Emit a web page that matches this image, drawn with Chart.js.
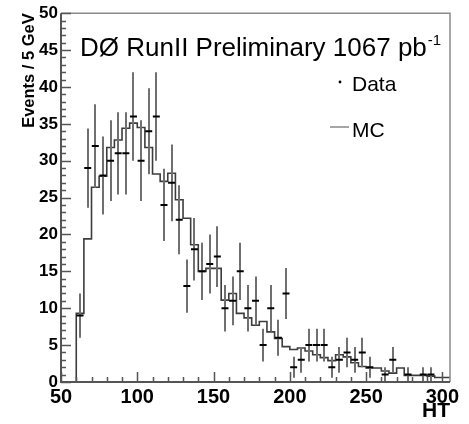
<!DOCTYPE html>
<html>
<head>
<meta charset="utf-8">
<script src="https://cdn.jsdelivr.net/npm/chart.js@4.4.1/dist/chart.umd.min.js"></script>
<style>
html,body{margin:0;padding:0;background:#fff;}
#wrap{width:469px;height:424px;position:relative;}
</style>
</head>
<body>
<div id="wrap"><canvas id="c" width="469" height="424"></canvas></div>
<script>
// ---- data ----
const binCenters = [62.5,67.5,72.5,77.5,82.5,87.5,92.5,97.5,102.5,107.5,112.5,117.5,122.5,127.5,132.5,137.5,142.5,147.5,152.5,157.5,162.5,167.5,172.5,177.5,182.5,187.5,192.5,197.5,202.5,207.5,212.5,217.5,222.5,227.5,232.5,237.5,242.5,247.5,252.5,257.5,262.5,267.5,272.5,277.5,282.5,287.5,292.5,297.5,302.5];
const dataCounts = [9,29,32,28,30,31,31,36,30,34,36,24,27,22,13,18,15,16,17,10,11,15,10,11,5,10,6,12,2,3,5,5,5,2,3,4,3,4,2,0,1,3,0,1,0,1,1,0,0];
const mcEdges = [60,65,70,75,80,85,90,95,100,105,110,115,120,125,130,135,140,145,150,155,160,165,170,175,180,185,190,195,200,205,210,215,220,225,230,235,240,245,250,255,260,265,270,275,280,285,290,295,300];
const mcValues = [9.3,19.4,26.4,27.9,31.8,32.8,34.4,35.1,34.5,31.8,28.2,27.2,28.3,24.7,22.2,18.6,15.0,15.4,15.4,11.1,12.0,9.3,8.7,7.7,8.2,6.8,5.9,4.8,4.4,4.6,4.2,3.7,3.3,2.9,3.7,3.4,2.6,2.1,1.9,1.9,1.5,1.2,1.9,0.9,0.9,0.9,0.8,0.6,0.6];
const binWidth = 5;
const xTickLabels = [50,100,150,200,250,300];
const xRange = [50,305];
const yRange = [0,50];

const titleText = 'D\u00D8 RunII Preliminary 1067 pb';
const titleSup = '-1';
const legendData = 'Data';
const legendMC = 'MC';

// ---- build chart tables ----
const mcPoints = [{x: mcEdges[0], y: 0}];
mcEdges.forEach((e, i) => mcPoints.push({x: e, y: mcValues[i]}));
mcPoints.push({x: mcEdges[mcEdges.length-1] + binWidth, y: mcValues[mcValues.length-1]});

const dataPoints = [];
binCenters.forEach((c, i) => { if (dataCounts[i] > 0) dataPoints.push({x: c, y: dataCounts[i]}); });

const FONT = "'Liberation Sans', Arial, Helvetica, sans-serif";
Chart.defaults.font.family = FONT;

const errorBars = {
  id: 'errorBars',
  beforeDatasetDraw(chart, args) {
    if (args.index !== 1) return;
    const {ctx, scales: {x, y}, chartArea} = chart;
    ctx.save();
    ctx.beginPath();
    ctx.rect(chartArea.left, chartArea.top, chartArea.right - chartArea.left, chartArea.bottom - chartArea.top);
    ctx.clip();
    ctx.strokeStyle = '#707070';
    ctx.lineWidth = 2;
    dataPoints.forEach(p => {
      const e = Math.sqrt(p.y);
      const px = Math.round(x.getPixelForValue(p.x));
      ctx.beginPath();
      ctx.moveTo(px, y.getPixelForValue(p.y - e));
      ctx.lineTo(px, y.getPixelForValue(p.y + e));
      ctx.stroke();
    });
    ctx.restore();
  }
};

const frameAndText = {
  id: 'frameAndText',
  afterDraw(chart) {
    const {ctx, scales: {x, y}, chartArea: a} = chart;
    ctx.save();
    // frame
    ctx.strokeStyle = '#8a8a8a';
    ctx.lineWidth = 1.5;
    ctx.beginPath();
    ctx.moveTo(a.left, a.top); ctx.lineTo(a.right, a.top); ctx.lineTo(a.right, a.bottom);
    ctx.stroke();
    ctx.strokeStyle = '#555';
    ctx.lineWidth = 2;
    ctx.beginPath();
    ctx.moveTo(a.left, a.top); ctx.lineTo(a.left, a.bottom); ctx.lineTo(a.right, a.bottom);
    ctx.stroke();
    // y ticks (inward)
    ctx.lineWidth = 1.5;
    ctx.beginPath();
    for (let v = yRange[0]; v <= yRange[1]; v += 1) {
      const py = Math.round(y.getPixelForValue(v)) + 0.5;
      const len = v % 5 === 0 ? 10 : 5;
      ctx.moveTo(a.left, py); ctx.lineTo(a.left + len, py);
    }
    // x ticks (inward)
    for (let v = xRange[0]; v <= 300; v += 10) {
      const px = Math.round(x.getPixelForValue(v)) + 0.5;
      const len = v % 50 === 0 ? 10 : 5;
      ctx.moveTo(px, a.bottom); ctx.lineTo(px, a.bottom - len);
    }
    ctx.stroke();

    // title
    ctx.fillStyle = '#000';
    ctx.textBaseline = 'alphabetic';
    ctx.textAlign = 'left';
    ctx.font = '26px ' + FONT;
    ctx.fillText(titleText, 80, 56);
    const w = ctx.measureText(titleText).width;
    ctx.font = '15px ' + FONT;
    ctx.fillText(titleSup, 80 + w + 1, 45);

    // legend
    ctx.beginPath();
    ctx.arc(340, 82, 1.4, 0, Math.PI * 2);
    ctx.fill();
    ctx.font = '21px ' + FONT;
    ctx.fillText(legendData, 352, 91);
    ctx.strokeStyle = '#888';
    ctx.lineWidth = 1.5;
    ctx.beginPath();
    ctx.moveTo(330, 127); ctx.lineTo(349, 127);
    ctx.stroke();
    ctx.fillText(legendMC, 352, 137);
    ctx.restore();
  }
};

new Chart(document.getElementById('c'), {
  type: 'line',
  data: {
    datasets: [
      {
        label: 'MC',
        data: mcPoints,
        stepped: 'before',
        borderColor: '#3c3c3c',
        borderWidth: 1.6,
        pointRadius: 0,
        fill: false,
        order: 2
      },
      {
        label: 'Data',
        data: dataPoints,
        showLine: false,
        pointStyle: 'line',
        pointRadius: 3.5,
        pointBorderWidth: 2,
        borderColor: '#000',
        backgroundColor: '#000',
        order: 1
      }
    ]
  },
  options: {
    responsive: false,
    animation: false,
    devicePixelRatio: 1,
    layout: { padding: { left: 0, right: 19, top: 13, bottom: 0 } },
    plugins: { legend: { display: false }, title: { display: false }, tooltip: { enabled: false } },
    scales: {
      x: {
        type: 'linear',
        min: xRange[0], max: xRange[1],
        grid: { display: false, drawTicks: false },
        border: { display: false },
        afterBuildTicks: s => { s.ticks = xTickLabels.map(v => ({value: v})); },
        afterFit: s => { s.height = 42; },
        ticks: { color: '#000', font: { size: 20, weight: 'bold' }, padding: 3, maxRotation: 0, autoSkip: false },
        title: { display: true, text: 'HT', align: 'end', color: '#000', font: { size: 21, weight: 'bold' }, padding: { top: 0, bottom: 0 } }
      },
      y: {
        min: yRange[0], max: yRange[1],
        grid: { display: false, drawTicks: false },
        border: { display: false },
        afterFit: s => { s.width = 61; },
        ticks: { stepSize: 5, color: '#000', font: { size: 17, weight: 'bold' }, padding: 3 },
        title: { display: true, text: 'Events / 5 GeV', align: 'end', color: '#000', font: { size: 16.5, weight: 'bold' }, padding: { top: 20, bottom: 0 } }
      }
    }
  },
  plugins: [errorBars, frameAndText]
});
</script>
</body>
</html>
